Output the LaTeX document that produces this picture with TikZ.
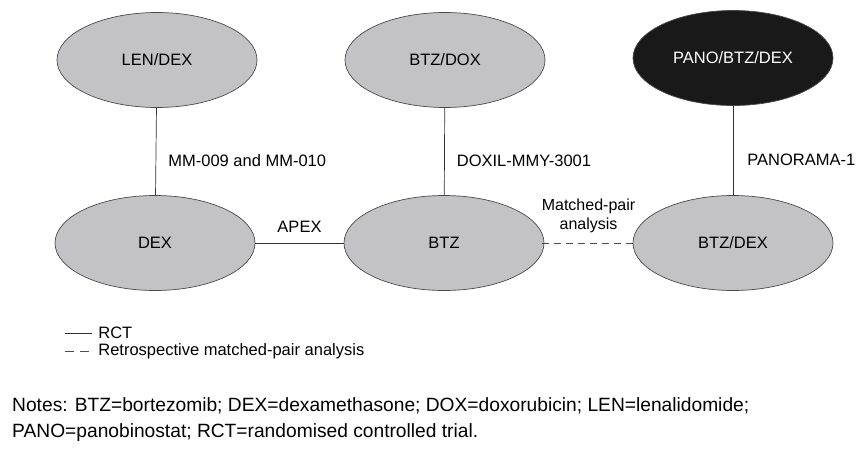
\documentclass[tikz,border=0pt]{standalone}
\usepackage{fontspec}
\setmainfont{Liberation Sans}
\usetikzlibrary{shapes.geometric}
\definecolor{ovalfill}{HTML}{C3C3C6}
\definecolor{ovalline}{HTML}{4A4A4A}
\tikzset{
  trial/.style={ellipse, draw=ovalline, line width=0.7pt, fill=ovalfill,
    minimum width=200pt, minimum height=95pt, inner sep=0pt, font=\fontsize{16.5}{18}\selectfont},
  newtrial/.style={trial, fill=black!90, text=white},
  rct/.style={draw=black!80, line width=0.7pt},
  mpa/.style={draw=black!70, line width=0.7pt, dash pattern=on 7pt off 5pt},
  lbl/.style={font=\fontsize{16.5}{18}\selectfont, inner sep=0pt},
}
\begin{document}
\begin{tikzpicture}[x=1pt, y=-1pt]
\useasboundingbox (0,0) rectangle (856,448);
% treatment regimens
\node[trial] (lendex) at (157,60) {LEN/DEX};
\node[trial] (btzdox) at (445,60) {BTZ/DOX};
\node[newtrial] (pano) at (733,58) {PANO/BTZ/DEX};
\node[trial] (dex) at (155,243) {DEX};
\node[trial] (btz) at (444,243) {BTZ};
\node[trial] (btzdex) at (733,243) {BTZ/DEX};
% randomised trials
\draw[rct] (lendex) -- node[lbl, right=12pt, yshift=-9pt] {MM-009 and MM-010} (dex);
\draw[rct] (btzdox) -- node[lbl, right=12pt, yshift=-9pt] {DOXIL-MMY-3001} (btz);
\draw[rct] (pano) -- node[lbl, right=14pt, yshift=-9pt] {PANORAMA-1} (btzdex);
\draw[rct] (dex) -- node[lbl, above=10pt] {APEX} (btz);
% matched-pair comparison
\draw[mpa] ([xshift=-2pt]btz.east) -- node[lbl, above=10pt, align=center, font=\fontsize{16}{19}\selectfont] {Matched-pair\\analysis} ([xshift=2pt]btzdex.west);
% legend
\coordinate (l1a) at (65,333); \coordinate (l1b) at (92,333);
\coordinate (l2a) at (65,351); \coordinate (l2b) at (92,351);
\draw[rct] (l1a) -- (l1b) node[lbl, right=6pt, font=\fontsize{16.5}{18}\selectfont] (rctkey) {RCT};
\draw[mpa, dash pattern=on 9pt off 6pt] (l2a) -- (l2b) node[lbl, right=6pt, font=\fontsize{16.5}{18}\selectfont] (mpakey) {Retrospective matched-pair analysis};
% notes (anchored on the baseline of the last line)
\node[anchor=base west, inner sep=0pt, align=left, font=\fontsize{19.2}{26}\selectfont] (notes) at (12,437)
  {Notes: BTZ=bortezomib; DEX=dexamethasone; DOX=doxorubicin; LEN=lenalidomide;\\
   PANO=panobinostat; RCT=randomised controlled trial.};
\end{tikzpicture}
\end{document}
